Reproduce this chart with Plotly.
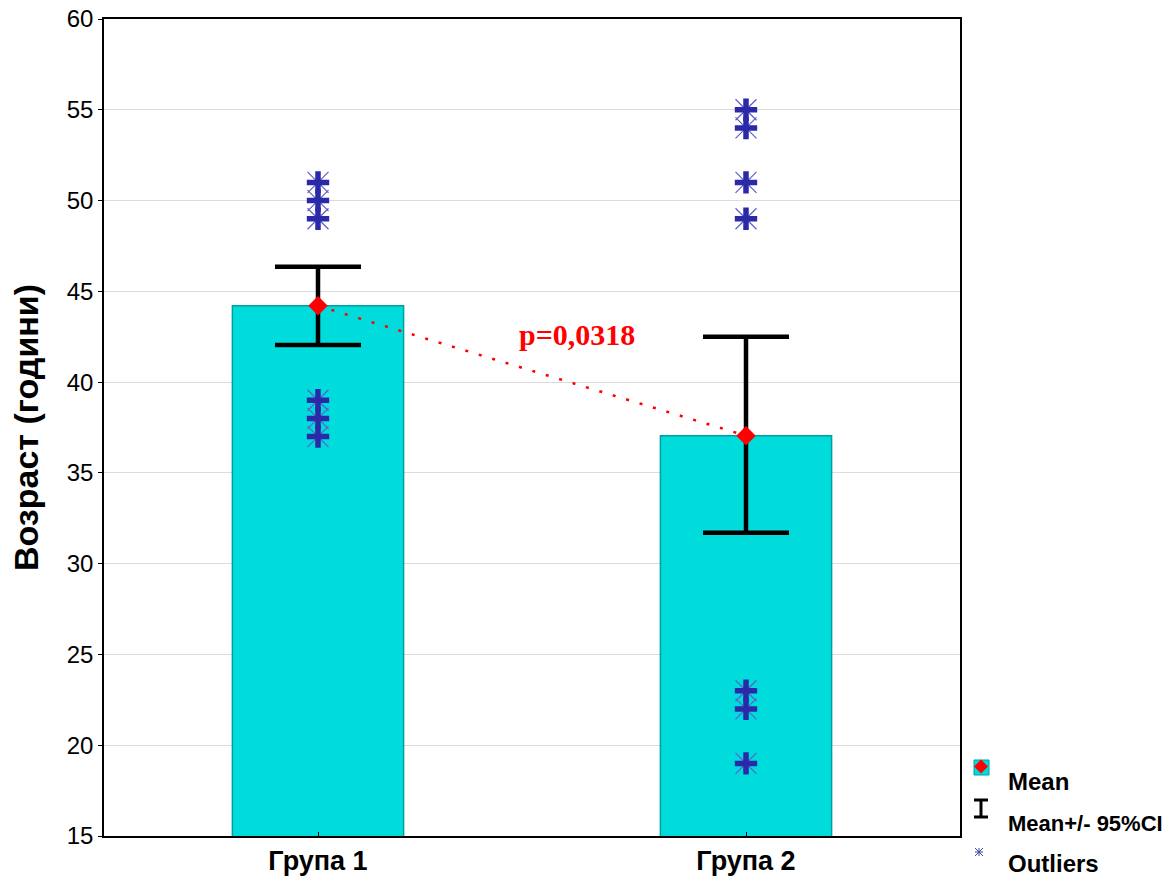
import plotly.graph_objects as go

categories = ["Група 1", "Група 2"]
means = [44.2, 37.05]
ci_low = [42.05, 31.7]
ci_high = [46.35, 42.5]
outliers_g1 = [51, 50, 49, 39, 38, 37]
outliers_g2 = [55, 54, 51, 49, 23, 22, 19]
y_ticks = [15, 20, 25, 30, 35, 40, 45, 50, 55, 60]
p_text = "p=0,0318"
legend_labels = ["Mean", "Mean+/- 95%CI", "Outliers"]

W, H = 1176, 883
L, R, T, B = 104, 216, 19, 47
pw, ph = W - L - R, H - T - B

def px(x):
    return (x - L) / pw

def py(y):
    return (H - B - y) / ph

fig = go.Figure()

fig.add_trace(go.Bar(
    x=categories, y=means, width=0.4,
    marker=dict(color="#00DCDC", line=dict(color="#00A0A0", width=1.5)),
    showlegend=False, hoverinfo="skip"))

ox = [categories[0]] * len(outliers_g1) + [categories[1]] * len(outliers_g2)
oy = outliers_g1 + outliers_g2
fig.add_trace(go.Scatter(
    x=ox, y=oy, mode="markers",
    marker=dict(symbol="x-thin-open", size=21, color="#6060c8",
                line=dict(width=1.2, color="#6060c8")),
    showlegend=False, hoverinfo="skip"))
fig.add_trace(go.Scatter(
    x=ox, y=oy, mode="markers",
    marker=dict(symbol="cross-thin-open", size=16, color="#2A2AA8",
                line=dict(width=5.5, color="#2A2AA8")),
    showlegend=False, hoverinfo="skip"))

fig.add_trace(go.Scatter(
    x=categories, y=means, mode="markers",
    marker=dict(size=1, color="rgba(0,0,0,0)"),
    error_y=dict(type="data", symmetric=False,
                 array=[h - m for h, m in zip(ci_high, means)],
                 arrayminus=[m - l for m, l in zip(means, ci_low)],
                 color="black", thickness=4.5, width=43),
    showlegend=False, hoverinfo="skip"))

fig.add_trace(go.Scatter(
    x=categories, y=means, mode="lines+markers",
    line=dict(color="red", width=2.5, dash="3px,11px"),
    marker=dict(symbol="diamond", size=15, color="red"),
    showlegend=False, hoverinfo="skip"))

fig.add_annotation(x=0.605, y=42.6, text="<b>" + p_text + "</b>", showarrow=False,
                   font=dict(family="Liberation Serif", size=30, color="red"))

# Legend (drawn manually)
shapes = []
shapes.append(dict(type="rect", xref="paper", yref="paper",
                   x0=px(974), x1=px(989), y0=py(775), y1=py(760),
                   fillcolor="#00DCDC", line=dict(color="#00A0A0", width=1)))
cx, cy, r = 981, 766.5, 7
shapes.append(dict(type="path", xref="paper", yref="paper",
                   path=f"M {px(cx)} {py(cy - r)} L {px(cx + r)} {py(cy)} L {px(cx)} {py(cy + r)} L {px(cx - r)} {py(cy)} Z",
                   fillcolor="red", line=dict(color="red", width=0)))
# I symbol
shapes.append(dict(type="line", xref="paper", yref="paper", x0=px(974), x1=px(988), y0=py(800), y1=py(800), line=dict(color="black", width=3)))
shapes.append(dict(type="line", xref="paper", yref="paper", x0=px(974), x1=px(988), y0=py(817), y1=py(817), line=dict(color="black", width=3)))
shapes.append(dict(type="line", xref="paper", yref="paper", x0=px(981), x1=px(981), y0=py(800), y1=py(817), line=dict(color="black", width=3)))
# asterisk
ax, ay, a = 979, 852, 4
for dx, dy in [(a, 0), (0, a), (a, a), (a, -a)]:
    shapes.append(dict(type="line", xref="paper", yref="paper",
                       x0=px(ax - dx), x1=px(ax + dx), y0=py(ay - dy), y1=py(ay + dy),
                       line=dict(color="#3a4aa0", width=1)))
fig.update_layout(shapes=shapes)

for lab, yy, fs in zip(legend_labels, [781, 823, 864], [24, 22, 24]):
    fig.add_annotation(xref="paper", yref="paper", x=px(1006), y=py(yy),
                       xanchor="left", yanchor="middle", showarrow=False,
                       text="<b>" + lab + "</b>",
                       font=dict(family="Liberation Sans", size=fs, color="black"))

fig.update_layout(
    width=W, height=H, autosize=False,
    margin=dict(l=L, r=R, t=T, b=B, pad=0, autoexpand=False),
    plot_bgcolor="white", paper_bgcolor="white",
    font=dict(family="Liberation Sans", color="black"),
    xaxis=dict(range=[-0.5, 1.5], showline=True, mirror=True, linecolor="black", linewidth=1.5,
               ticks="inside", ticklen=4, tickcolor="black", showgrid=False, automargin=False,
               tickfont=dict(size=27, family="Liberation Sans", weight="bold")),
    yaxis=dict(range=[15, 60], tickvals=y_ticks, showline=True, mirror=True, linecolor="black",
               linewidth=1.5, ticks="outside", ticklen=4, tickcolor="black", automargin=False,
               showgrid=True, gridcolor="#dcdcdc", gridwidth=1, zeroline=False,
               tickfont=dict(size=24, family="Liberation Sans"),
               title=dict(text="<b>Возраст (години)</b>", standoff=18,
                          font=dict(size=34, family="Liberation Sans"))),
)

fig.write_html("out.html")
